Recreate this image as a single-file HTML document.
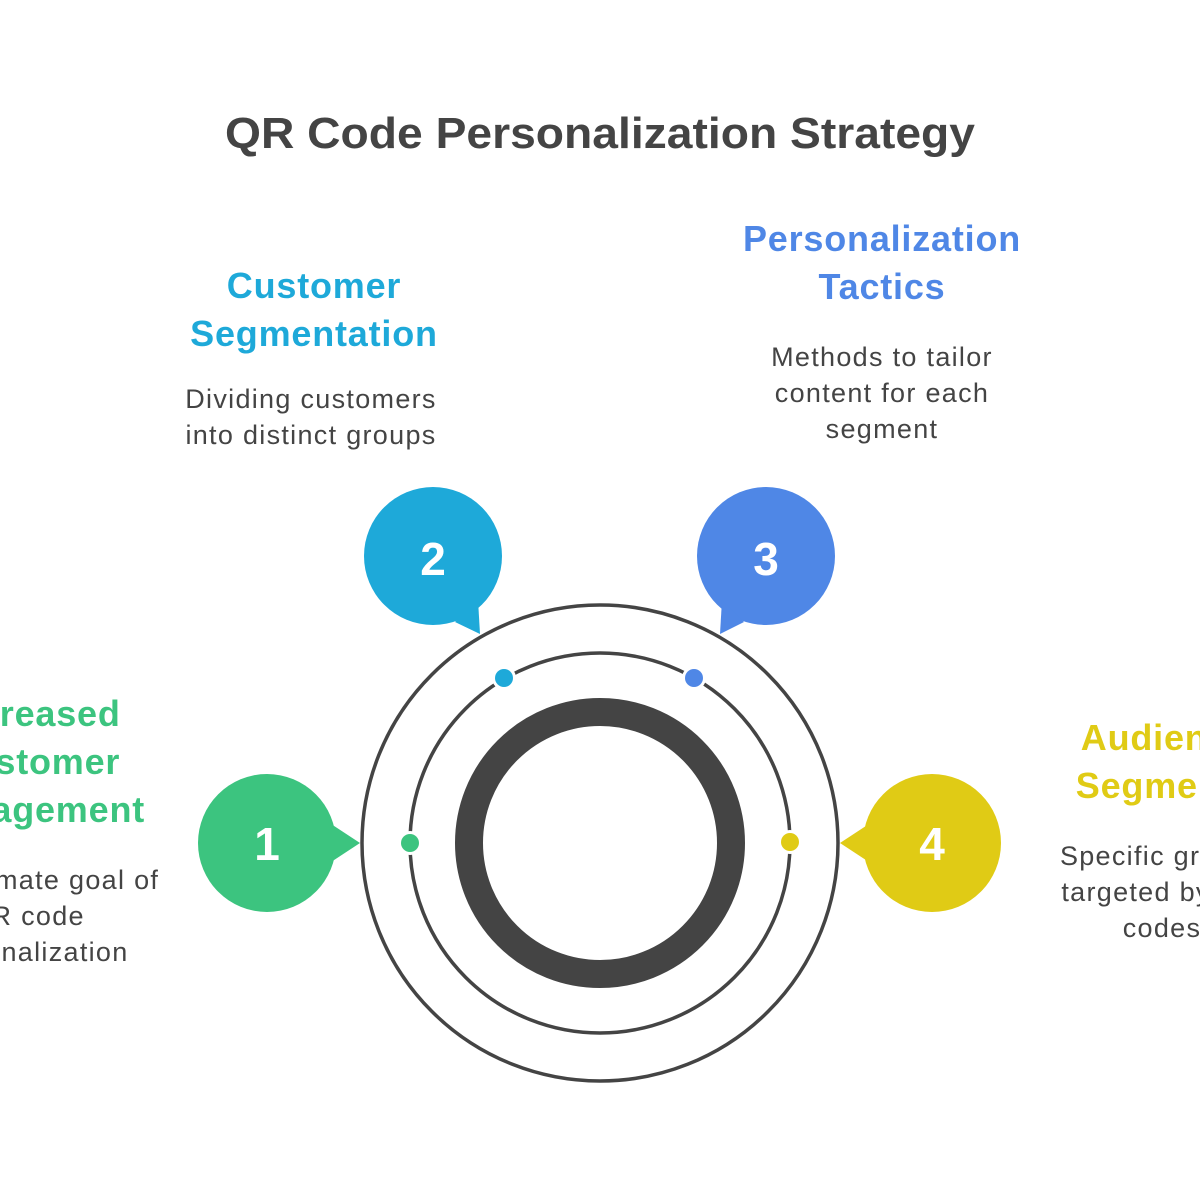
<!DOCTYPE html>
<html><head><meta charset="utf-8"><style>
html,body{margin:0;padding:0;background:#fff;}
svg{display:block;}
text{font-family:"Liberation Sans",sans-serif;}
</style></head><body>
<svg width="1200" height="1200" viewBox="0 0 1200 1200" xmlns="http://www.w3.org/2000/svg">
<rect width="1200" height="1200" fill="#fff"/>
<text x="600" y="148" text-anchor="middle" font-size="44" font-weight="bold" fill="#444" textLength="750" lengthAdjust="spacingAndGlyphs">QR Code Personalization Strategy</text>

<circle cx="600" cy="843" r="238" fill="none" stroke="#444" stroke-width="3.5"/>
<circle cx="600" cy="843" r="190" fill="none" stroke="#444" stroke-width="3.5"/>
<circle cx="600" cy="843" r="131" fill="none" stroke="#444" stroke-width="28"/>

<circle cx="410" cy="843" r="12" fill="#fff"/><circle cx="410" cy="843" r="9" fill="#3cc47f"/>
<circle cx="790" cy="842" r="12" fill="#fff"/><circle cx="790" cy="842" r="9" fill="#e0cb15"/>
<circle cx="504" cy="678" r="12" fill="#fff"/><circle cx="504" cy="678" r="9" fill="#1ea9d9"/>
<circle cx="694" cy="678" r="12" fill="#fff"/><circle cx="694" cy="678" r="9" fill="#4f87e6"/>

<g fill="#3cc47f"><circle cx="267" cy="843" r="69"/><polygon points="325,820 360,843 325,866"/></g>
<g fill="#1ea9d9"><circle cx="433" cy="556" r="69"/><polygon points="455,622 480,634 478,600"/></g>
<g fill="#4f87e6"><circle cx="766" cy="556" r="69"/><polygon points="744,622 720,634 722,600"/></g>
<g fill="#e0cb15"><circle cx="932" cy="843" r="69"/><polygon points="875,820 840,843 875,866"/></g>
<g font-size="46" font-weight="bold" fill="#fff" text-anchor="middle">
<text x="267" y="860">1</text><text x="433" y="575">2</text><text x="766" y="575">3</text><text x="932" y="860">4</text>
</g>

<g font-size="36" font-weight="bold" text-anchor="middle" letter-spacing="0.8">
<text x="314" y="298" fill="#1ea9d9">Customer</text>
<text x="314" y="346" fill="#1ea9d9">Segmentation</text>
<text x="882" y="251" fill="#4f87e6">Personalization</text>
<text x="882" y="299" fill="#4f87e6">Tactics</text>
<text x="33" y="726" fill="#3cc47f">Increased</text>
<text x="33" y="774" fill="#3cc47f">Customer</text>
<text x="33" y="822" fill="#3cc47f">Engagement</text>
<text x="1165" y="750" fill="#e0cb15">Audience</text>
<text x="1165" y="798" fill="#e0cb15">Segments</text>
</g>
<g font-size="27" fill="#444" text-anchor="middle" letter-spacing="1.3">
<text x="311" y="408">Dividing customers</text>
<text x="311" y="444">into distinct groups</text>
<text x="882" y="366">Methods to tailor</text>
<text x="882" y="402">content for each</text>
<text x="882" y="438">segment</text>
<text x="55" y="889">Ultimate goal of</text>
<text x="27" y="925">QR code</text>
<text x="28" y="961">personalization</text>
<text x="1162" y="865">Specific groups</text>
<text x="1162" y="901">targeted by QR</text>
<text x="1162" y="937">codes</text>
</g>
</svg>
</body></html>
